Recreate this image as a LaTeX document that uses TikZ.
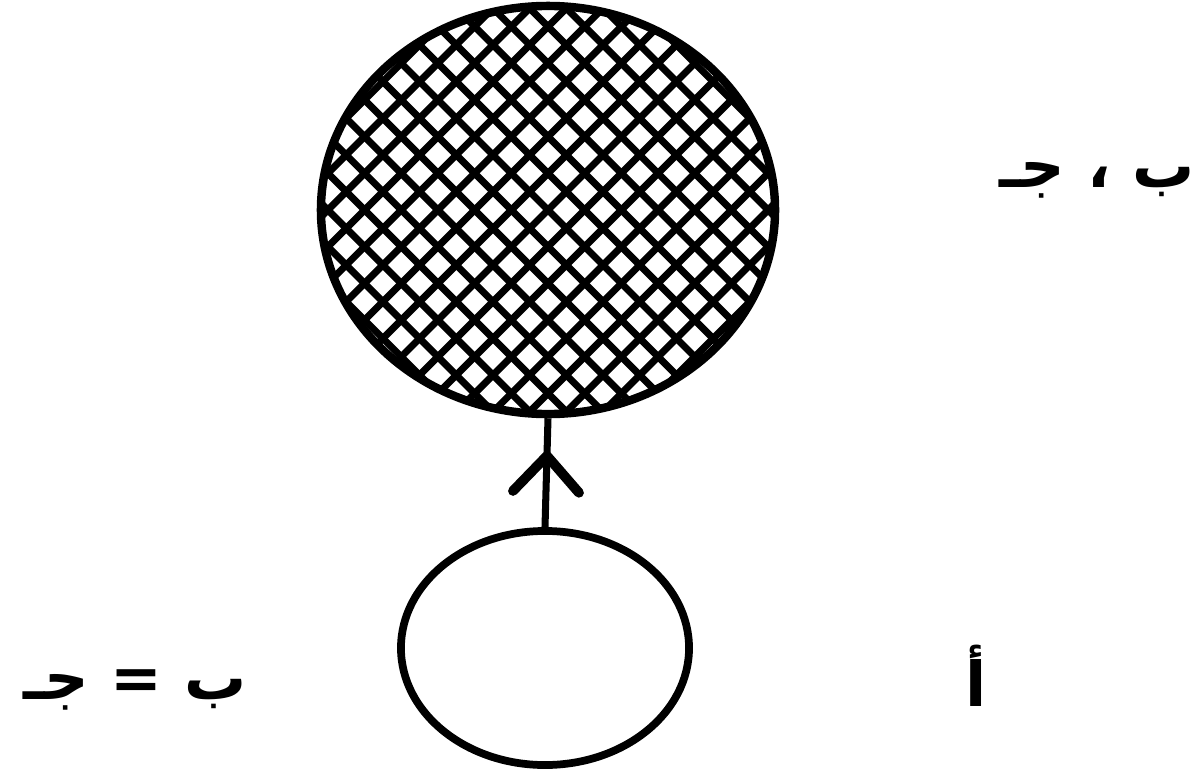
\documentclass[tikz,border=0pt]{standalone}
\usepackage{fontspec}
\newfontfamily\arabicfont[Script=Arabic]{DejaVu Sans}
\TeXXeTstate=1
\usepackage{tikz}
\usetikzlibrary{arrows.meta,positioning,calc,shapes.geometric,decorations.markings}
\tikzset{
  %% outlines of the two sets
  setbox/.style={ellipse, draw=black, inner sep=0pt},
  %% cross hatched fill of the big set
  hatched/.style={
    path picture={
      \foreach \k in {-10,...,10}{
        \draw[line width=5pt]
          ([shift={({\k*0.917cm-7cm},-7cm)}]path picture bounding box.center) -- ++(14cm,14cm);
        \draw[line width=5pt]
          ([shift={({\k*0.917cm+7cm},-7cm)}]path picture bounding box.center) -- ++(-14cm,14cm);
      }
    }},
  link/.style={draw, line width=5pt,
    postaction={decorate},
    decoration={markings, mark=at position 0.7 with
      {\arrow{Straight Barb[length=9mm,width=16.5mm,line width=7pt,round]}}}},
  arlabel/.style={font=\arabicfont\bfseries\fontsize{44}{50}\selectfont, inner sep=0pt},
}

\begin{document}
\begin{tikzpicture}[x=0.025cm,y=-0.025cm]
\useasboundingbox (0,0) rectangle (1198,770);
\node[setbox, hatched, line width=6pt, minimum width=11.35cm, minimum height=10.2cm] (whole) at (548,210) {};
\node[setbox, line width=5.5pt, minimum width=7.2cm, minimum height=5.85cm] (part) at (545,648) {};
\draw[link] (part.north) -- (whole.south);
\node[arlabel] (lblwhole) at (1097,180) {\beginR ب ، جـ\endR};
\node[arlabel] (lblpart) at (976,676) {\beginR أ\endR};
\node[arlabel] (lblequal) at (135,690) {\beginR ب = جـ\endR};
\end{tikzpicture}
\end{document}
